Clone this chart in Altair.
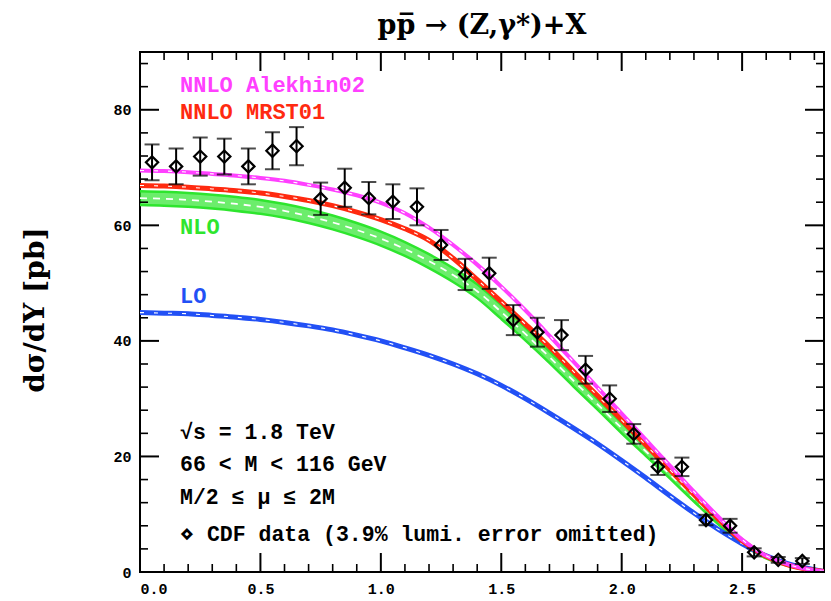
import altair as alt
import pandas as pd

# ---------------- data ----------------
rap_grid = [0.0, 0.1, 0.2, 0.3, 0.4, 0.5, 0.6, 0.7, 0.8, 0.9, 1.0, 1.1, 1.2, 1.3, 1.4,
            1.5, 1.6, 1.7, 1.8, 1.9, 2.0, 2.1, 2.2, 2.3, 2.4, 2.5, 2.6, 2.7, 2.8, 2.84]

nnlo_alekhin02 = [69.5, 69.4, 69.2, 68.9, 68.6, 68.2, 67.7, 67.0, 66.2, 65.2, 63.9, 62.1, 59.6, 56.6, 53.2,
                  49.4, 45.3, 40.9, 36.4, 31.9, 27.4, 22.9, 18.4, 13.9, 9.6, 5.6, 2.8, 1.2, 0.3, 0.1]

nnlo_mrst01 = [66.9, 66.8, 66.6, 66.3, 66.0, 65.6, 65.0, 64.3, 63.4, 62.3, 61.0, 59.4, 57.4, 54.3, 50.6,
               46.8, 42.9, 39.0, 34.7, 30.5, 26.3, 22.0, 17.7, 13.4, 9.2, 5.4, 2.7, 1.1, 0.3, 0.1]

nlo_upper = [65.9, 65.8, 65.6, 65.3, 64.9, 64.4, 63.7, 62.8, 61.7, 60.4, 58.9, 57.1, 55.0, 52.6, 49.8,
             46.2, 42.3, 38.2, 34.1, 29.9, 25.8, 21.7, 17.6, 13.4, 9.3, 5.55, 2.85, 1.25, 0.38, 0.15]
nlo_lower = [63.5, 63.4, 63.2, 62.9, 62.5, 62.0, 61.3, 60.4, 59.3, 58.0, 56.5, 54.7, 52.6, 50.2, 47.4,
             43.8, 40.1, 36.2, 32.1, 28.1, 24.0, 20.1, 16.2, 12.2, 8.3, 4.85, 2.35, 0.95, 0.22, 0.05]

lo_curve = [44.9, 44.8, 44.7, 44.4, 44.1, 43.7, 43.2, 42.6, 41.9, 41.0, 40.0, 38.8, 37.5, 36.0, 34.3,
            32.3, 30.0, 27.5, 24.9, 22.2, 19.3, 16.3, 13.2, 10.2, 7.4, 4.9, 2.8, 1.3, 0.4, 0.1]

cdf_rap = [0.05, 0.15, 0.25, 0.35, 0.45, 0.55, 0.65, 0.75, 0.85, 0.95, 1.05, 1.15, 1.25, 1.35,
           1.45, 1.55, 1.65, 1.75, 1.85, 1.95, 2.05, 2.15, 2.25, 2.35, 2.45, 2.55, 2.65, 2.75]
cdf_val = [70.9, 70.2, 71.9, 71.9, 70.2, 72.9, 73.7, 64.6, 66.5, 64.7, 64.1, 63.2, 56.6, 51.5,
           51.7, 43.6, 41.5, 41.0, 35.0, 30.0, 23.9, 18.2, 18.2, 9.0, 8.0, 3.4, 2.1, 1.9]
cdf_err = [3.1, 3.1, 3.3, 3.1, 3.1, 3.2, 3.3, 2.8, 3.3, 2.8, 3.0, 3.2, 2.6, 2.7,
           2.7, 2.6, 2.5, 2.6, 2.4, 2.3, 1.7, 1.4, 1.6, 0.9, 1.2, 0.7, 0.5, 0.5]

x_major_ticks = [0.0, 0.5, 1.0, 1.5, 2.0, 2.5]
x_minor_ticks = [0.1, 0.2, 0.3, 0.4, 0.6, 0.7, 0.8, 0.9, 1.1, 1.2, 1.3, 1.4, 1.6, 1.7, 1.8, 1.9,
                 2.1, 2.2, 2.3, 2.4, 2.6, 2.7, 2.8]
y_major_ticks = [0, 20, 40, 60, 80]
y_minor_ticks = [4, 8, 12, 16, 24, 28, 32, 36, 44, 48, 52, 56, 64, 68, 72, 76, 84, 88]

title_text = "pp\u0305 \u2192 (Z,\u03b3*)+X"
y_title_text = "d\u03c3/dY [pb]"
legend_labels = ["NNLO Alekhin02", "NNLO MRST01", "NLO", "LO"]
notes = ["\u221as = 1.8 TeV", "66 < M < 116 GeV", "M/2 \u2264 \u03bc \u2264 2M",
         "\u22c4 CDF data (3.9% lumi. error omitted)"]

# ---------------- styles ----------------
W, H = 684, 520
MAGENTA, RED, GREEN, BLUE = "#ff40ff", "#ff2a10", "#2ee52e", "#2250f5"
MONO = "Liberation Mono"

xs = alt.Scale(domain=[0, 2.84], nice=False, zero=False)
ys = alt.Scale(domain=[0, 90], nice=False, zero=False)

x_axis = alt.Axis(values=x_major_ticks, format=".1f", ticks=False, tickSize=0, domain=False,
                  grid=False, title=None, labelFont=MONO, labelFontWeight="bold",
                  labelFontSize=15, labelPadding=9, labelColor="black")
y_axis = alt.Axis(values=y_major_ticks, format="d", ticks=False, tickSize=0, domain=False,
                  grid=False, title=None, labelFont=MONO, labelFontWeight="bold",
                  labelFontSize=15, labelPadding=9, labelColor="black")


def X(f):
    return alt.X(f, type="quantitative", scale=xs, axis=x_axis)


def Y(f):
    return alt.Y(f, type="quantitative", scale=ys, axis=y_axis)


curves = pd.DataFrame({
    "rap": rap_grid, "alekhin": nnlo_alekhin02, "mrst": nnlo_mrst01,
    "nlo_hi": nlo_upper, "nlo_lo": nlo_lower, "lo": lo_curve,
})
base = alt.Chart(curves)

layers = []
# NLO band
layers.append(base.mark_area(color=GREEN, opacity=0.7, interpolate="monotone", clip=True)
              .encode(x=X("rap"), y=Y("nlo_lo"), y2="nlo_hi:Q"))
for f in ["nlo_hi", "nlo_lo"]:
    layers.append(base.mark_line(color=GREEN, strokeWidth=2.5, interpolate="monotone", clip=True)
                  .encode(x=X("rap"), y=Y(f)))
layers.append(base.transform_calculate(mid="(datum.nlo_hi + datum.nlo_lo) / 2")
              .mark_line(color="white", strokeWidth=1.8, strokeDash=[7, 6], interpolate="monotone", clip=True)
              .encode(x=X("rap"), y=Y("mid")))

# LO, MRST01, Alekhin02 bands
for f, c, w in [("lo", BLUE, 5), ("mrst", RED, 5), ("alekhin", MAGENTA, 4)]:
    layers.append(base.mark_line(color=c, strokeWidth=w, interpolate="monotone", clip=True)
                  .encode(x=X("rap"), y=Y(f)))
    layers.append(base.mark_line(color="white", strokeWidth=1.1, strokeDash=[4, 10],
                                 interpolate="monotone", clip=True)
                  .encode(x=X("rap"), y=Y(f)))

# CDF data
cdf = pd.DataFrame({"rap": cdf_rap, "val": cdf_val, "err": cdf_err})
cbase = alt.Chart(cdf).transform_calculate(lo="datum.val - datum.err", hi="datum.val + datum.err")
layers.append(cbase.mark_rule(color="black", strokeWidth=2).encode(x=X("rap"), y=Y("lo"), y2="hi:Q"))
for f in ["lo", "hi"]:
    layers.append(cbase.mark_tick(color="black", orient="horizontal", size=15, thickness=2)
                  .encode(x=X("rap"), y=Y(f)))
layers.append(alt.Chart(cdf).mark_point(shape="diamond", filled=False, color="black", strokeWidth=2.2,
                                        size=150, opacity=1).encode(x=X("rap"), y=Y("val")))

# inward ticks on all four sides
xt_major = alt.Chart(pd.DataFrame({"t": x_major_ticks}))
xt_minor = alt.Chart(pd.DataFrame({"t": x_minor_ticks}))
yt_major = alt.Chart(pd.DataFrame({"t": y_major_ticks}))
yt_minor = alt.Chart(pd.DataFrame({"t": y_minor_ticks}))
for src, L, sw in [(xt_major, 19, 2), (xt_minor, 8, 1.6)]:
    layers.append(src.mark_rule(color="black", strokeWidth=sw)
                  .encode(x=X("t"), y=alt.value(H), y2=alt.value(H - L)))
    layers.append(src.mark_rule(color="black", strokeWidth=sw)
                  .encode(x=X("t"), y=alt.value(0), y2=alt.value(L)))
for src, L, sw in [(yt_major, 19, 2), (yt_minor, 8, 1.6)]:
    layers.append(src.mark_rule(color="black", strokeWidth=sw)
                  .encode(y=Y("t"), x=alt.value(0), x2=alt.value(L)))
    layers.append(src.mark_rule(color="black", strokeWidth=sw)
                  .encode(y=Y("t"), x=alt.value(W), x2=alt.value(W - L)))

# text
one = pd.DataFrame({"k": [0]})


def label(txt, x, y, color="black", size=22, font=MONO, angle=0, align="left"):
    kw = dict(text=txt, color=color, fontSize=size, font=font, fontWeight="bold",
              align=align, baseline="middle")
    if angle:
        kw["angle"] = angle
    return alt.Chart(one).mark_text(**kw).encode(x=alt.value(x), y=alt.value(y))


layers.append(label(title_text, W / 2, -26, size=27, font="DejaVu Serif", align="center"))
layers.append(label(y_title_text, -104, H / 2 - 2, size=28, font="DejaVu Serif", angle=270, align="center"))
for txt, c, yy in zip(legend_labels, [MAGENTA, RED, GREEN, BLUE], [33, 60, 175, 244]):
    layers.append(label(txt, 40, yy, color=c, size=22))
for txt, yy in zip(notes, [381, 413, 446, 483]):
    layers.append(label(txt, 40, yy, size=21.5))

chart = alt.layer(*layers).properties(
    width=W, height=H,
    autosize=alt.AutoSizeParams(type="none"),
    padding={"left": 140, "top": 52, "right": 7, "bottom": 29},
    background="white",
).configure_view(stroke="black", strokeWidth=2)

chart.save("out.html", embed_options={"renderer": "svg", "actions": False})
